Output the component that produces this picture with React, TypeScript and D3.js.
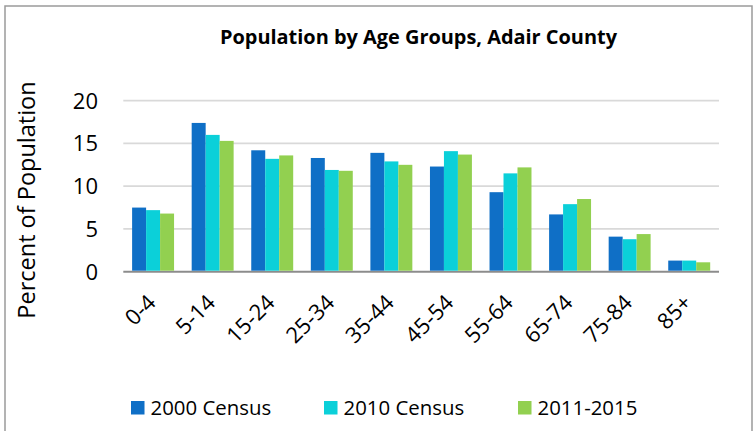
import React from "react";
import * as d3 from "d3";

const categories = ["0-4", "5-14", "15-24", "25-34", "35-44", "45-54", "55-64", "65-74", "75-84", "85+"];
const seriesNames = ["2000 Census", "2010 Census", "2011-2015"];
const census2000 = [7.5, 17.4, 14.2, 13.3, 13.9, 12.3, 9.3, 6.7, 4.1, 1.3];
const census2010 = [7.2, 16.0, 13.2, 11.9, 12.9, 14.1, 11.5, 7.9, 3.8, 1.3];
const acs2011_2015 = [6.8, 15.3, 13.6, 11.8, 12.5, 13.7, 12.2, 8.5, 4.4, 1.1];
const yTicks = [0, 5, 10, 15, 20];
const colors = ["#0F6FC6", "#0BD0D9", "#92D050"];

const W = 755;
const H = 431;
const FONT = "'Open Sans', sans-serif";

export default function App() {
  const seriesValues = [census2000, census2010, acs2011_2015];
  const x = d3.scaleBand<string>().domain(categories).range([123.3, 719]).padding(0);
  const xi = d3
    .scaleBand<string>()
    .domain(seriesNames)
    .range([0, x.bandwidth()])
    .paddingInner(0)
    .paddingOuter(0.63);
  const y = d3.scaleLinear().domain([0, 20]).range([271.7, 100.7]);

  const legendX = [131, 324, 518];

  return (
    <div style={{ position: "absolute", left: 0, top: 0 }}>
      <svg width={W} height={H} style={{ display: "block", background: "#fff" }}>
        <rect x={5} y={6} width={747} height={440} fill="#fff" stroke="#9a9a9a" strokeWidth={1.5} />
        <text
          x={418.5}
          y={44.3}
          textAnchor="middle"
          fontFamily={FONT}
          fontWeight="bold"
          fontSize={19.5}
          textLength={397}
          lengthAdjust="spacingAndGlyphs"
          fill="#000"
        >
          Population by Age Groups, Adair County
        </text>
        {yTicks.map((t) => (
          <g key={t}>
            <line
              x1={123.3}
              x2={719}
              y1={y(t)}
              y2={y(t)}
              stroke={t === 0 ? "#8c8c8c" : "#d9d9d9"}
              strokeWidth={t === 0 ? 2 : 1.8}
            />
            <text
              x={98}
              y={y(t)}
              dy="0.36em"
              textAnchor="end"
              fontFamily={FONT}
              fontSize={22}
              fill="#000"
            >
              {t}
            </text>
          </g>
        ))}
        {categories.map((c, i) => (
          <g key={c} transform={`translate(${x(c)},0)`}>
            {seriesNames.map((s, j) => (
              <rect
                key={s}
                x={xi(s)}
                y={y(seriesValues[j][i])}
                width={xi.bandwidth()}
                height={y(0) - y(seriesValues[j][i]) - 1}
                fill={colors[j]}
              />
            ))}
          </g>
        ))}
        {categories.map((c) => (
          <text
            key={c}
            transform={`translate(${(x(c) as number) + x.bandwidth() / 2 + 4},304) rotate(-45)`}
            textAnchor="end"
            fontFamily={FONT}
            fontSize={22}
            fill="#000"
          >
            {c}
          </text>
        ))}
        <text
          transform="translate(35,200) rotate(-90)"
          textAnchor="middle"
          fontFamily={FONT}
          fontSize={23.5}
          fill="#000"
        >
          Percent of Population
        </text>
        {seriesNames.map((s, j) => (
          <g key={s}>
            <rect x={legendX[j]} y={401} width={13.5} height={13.5} fill={colors[j]} />
            <text x={legendX[j] + 19.5} y={415} fontFamily={FONT} fontSize={20.4} fill="#000">
              {s}
            </text>
          </g>
        ))}
      </svg>
    </div>
  );
}
